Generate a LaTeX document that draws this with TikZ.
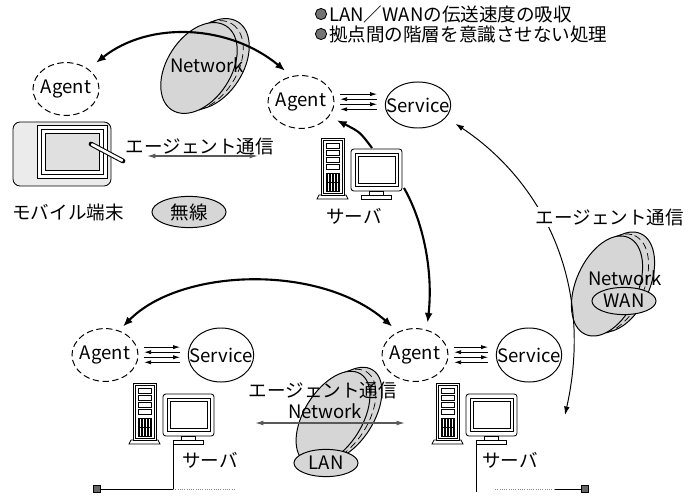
\documentclass[tikz,border=0pt]{standalone}
\usepackage{fontspec}
\setmainfont{Noto Sans CJK JP}
\usetikzlibrary{arrows.meta}
\usetikzlibrary{shapes.geometric}

\tikzset{
  agent/.style={ellipse,draw,dash pattern=on 4.5pt off 2.5pt,line width=0.7pt,minimum width=1.65cm,minimum height=1.32cm,inner xsep=-6pt,inner ysep=0pt},
  dienst/.style={ellipse,draw,line width=0.7pt,minimum width=1.6cm,minimum height=1.35cm,inner xsep=-6pt,inner ysep=0pt},
  netz/.style={draw,line width=0.7pt,fill=black!16},
  netzname/.style={ellipse,draw,line width=0.7pt,fill=black!16,minimum width=1.6cm,minimum height=0.68cm,inner sep=0pt},
  dick/.style={line width=1.5pt,-{Latex[length=7pt,width=5.5pt]}},
  dickzwei/.style={line width=1.5pt,{Latex[length=7pt,width=5.5pt]}-{Latex[length=7pt,width=5.5pt]}},
  duenn/.style={line width=0.7pt,{Latex[length=6pt,width=4pt]}-{Latex[length=6pt,width=4pt]}},
  grau/.style={line width=0.9pt,black!65,{Latex[length=6pt,width=3.5pt]}-{Latex[length=6pt,width=3.5pt]}},
  hin/.style={line width=0.6pt,-{Latex[length=5pt,width=3pt]}},
  her/.style={line width=0.6pt,{Latex[length=5pt,width=3pt]}-},
  punkt/.style={circle,draw,fill=black!55,minimum size=0.28cm,inner sep=0pt,line width=0.6pt},
  stecker/.style={rectangle,draw,fill=black!60,minimum size=0.18cm,inner sep=0pt}
}

\begin{document}
\begin{tikzpicture}[x=0.025cm,y=-0.025cm,line width=0.6pt,every node/.style={font=\fontsize{13.2}{15}\selectfont}]
\useasboundingbox (0,0) rectangle (694,497);

% Netze als Scheiben: Rueckseite, Rand, Vorderseite
\foreach \cx/\cy/\w/\a/\b in {199/68/57/50/32, 607/286/66/53/31, 333/418/58/52/29}{
  \draw[netz,rotate around={\w:(\cx+12,\cy-4)}] (\cx+12,\cy-4) ellipse [x radius=\a,y radius=\b];
  \draw[line width=0.5pt,dash pattern=on 5pt off 3pt,rotate around={\w:(\cx+6,\cy-2)}] (\cx+6,\cy-2) ellipse [x radius=\a,y radius=\b];
  \draw[netz,rotate around={\w:(\cx,\cy)}] (\cx,\cy) ellipse [x radius=\a,y radius=\b];
}

% Ziele oben rechts
\node[punkt] (p1) at (321,14) {};
\node[punkt] (p2) at (321,34) {};
\node[anchor=west] (ziel1) at (324,14) {LAN／WANの伝送速度の吸収};
\node[anchor=west] (ziel2) at (324,34) {拠点間の階層を意識させない処理};

% Mobiles Endgeraet
\draw[fill=black!8,rounded corners=5pt] (13,122) rectangle (111,186);   % Gehaeuse
\draw[fill=white] (37,125) rectangle (107,178);                          % Rahmen
\draw (41,129) rectangle (103,174);
\draw[fill=black!12] (45,133) rectangle (99,170);                        % Bildschirm
\draw[line width=3.4pt,line cap=round] (91,144) -- (123,161);            % Stift
\draw[line width=1.9pt,line cap=round,white] (92,144.5) -- (122,160.5);
\node (mobil) at (68,212) {モバイル端末};

% Server: Turm und Monitor
\foreach \ox/\oy/\nm in {321/138/srvT, 133/383/srvBL, 436/383/srvBR}{
  \begin{scope}[shift={(\ox,\oy)}]
    \draw[fill=white] (-4,61) -- (-2,57) -- (25,57) -- (27,61) -- cycle;   % Fuss Turm
    \draw[fill=white] (0,0) rectangle (23,57);                               % Turm
    \draw (2,2) rectangle (21,55);
    \foreach \t in {5,12,19,26} \draw (5,\t) rectangle (18,\t+5);          % Laufwerke
    \draw (5,35) rectangle (18,53);
    \foreach \g in {6.5,8,...,17} \draw[line width=0.3pt] (\g,35) -- (\g,53);
    \draw (5,44) -- (18,44);
    \draw[fill=white,rounded corners=2pt] (30,11) rectangle (81,53);       % Monitor
    \draw (34,15) rectangle (77,48);
    \draw (37,18) rectangle (74,45);
    \draw[fill=white] (48,53) rectangle (62,57);                            % Standfuss
    \draw[fill=white] (40,57) rectangle (70,61);
    \coordinate (\nm-oben) at (51,10);
    \coordinate (\nm-rechts) at (83,50);
    \coordinate (\nm-fuss) at (40,61);
  \end{scope}
}
\node (lblT) at (354,216) {サーバ};
\node (lblBL) at (210,460) {サーバ};
\node (lblBR) at (510,460) {サーバ};

% Agenten und Dienste
\node[agent] (agML) at (66,89) {Agent};
\node[agent] (agT) at (301,102) {Agent};
\node[dienst,minimum height=1.15cm] (svT) at (418,105) {Service};
\node[agent] (agBL) at (105,355) {Agent};
\node[dienst] (svBL) at (221,355) {Service};
\node[agent] (agBR) at (415,355) {Agent};
\node[dienst] (svBR) at (529,355) {Service};

% Nachrichten Agent <-> Service
\foreach \a/\s in {agT/svT,agBL/svBL,agBR/svBR}
  \foreach \d/\r in {5.6pt/hin,2pt/her,-1.6pt/hin,-5.2pt/her}
    \draw[\r,shorten <=4pt,shorten >=5.5pt] ([yshift=\d]\a.east) -- ([yshift=\d]\a.east -| \s.west);

% Agentenkommunikation
\draw[dickzwei,shorten <=7pt,shorten >=6pt] (agML.42) .. controls (150,20) and (230,25) .. (agT.110);
\draw[dick,shorten >=6pt] (srvT-oben) .. controls (360,132) .. (agT.-27);
\draw[dick,shorten >=5pt] (srvT-rechts) .. controls (425,225) and (433,275) .. (agBR.65);
\draw[dickzwei,shorten <=4pt,shorten >=5.5pt] (agBL.60) .. controls (180,268) and (320,263) .. (agBR.126);
\coordinate (wanEnde) at (565,415);
\draw[duenn,shorten <=8pt] (svT.-24) .. controls (540,180) and (595,280) .. (wanEnde);
\node[fill=white,inner sep=1pt] (kommR) at (610,217) {エージェント通信};

% Funkstrecke
\node (kommL) at (200,146) {エージェント通信};
\coordinate (mobL) at (147,156);
\coordinate (mobR) at (258,156);
\draw[grau] (mobL) -- (mobR);
\node[netzname,minimum width=1.85cm,minimum height=0.78cm] (funk) at (189,212) {無線};

% Netzbeschriftungen
\node (netzT) at (207,65) {Network};
\node (netzW) at (625,278) {Network};
\node[netzname] (wan) at (624,301) {WAN};
\node (kommM) at (323,390) {エージェント通信};
\node (netzM) at (325,411) {Network};
\coordinate (lanL) at (255,423);
\coordinate (lanR) at (405,423);
\draw[grau] (lanL) -- (lanR);
\node[netzname] (lan) at (326,463) {LAN};

% LAN-Kabel
\node[stecker] (stL) at (97,489) {};
\node[stecker] (stR) at (585,489) {};
\draw (srvBL-fuss) -- (srvBL-fuss |- stL) -- (stL);
\draw[black!45,densely dotted] (srvBL-fuss |- stL) -- ++(62,0);
\draw (srvBR-fuss) -- ++(0,48);
\draw[black!45,densely dotted] (495,489) -- (555,489);
\draw (555,489) -- (stR);

\end{tikzpicture}
\end{document}
